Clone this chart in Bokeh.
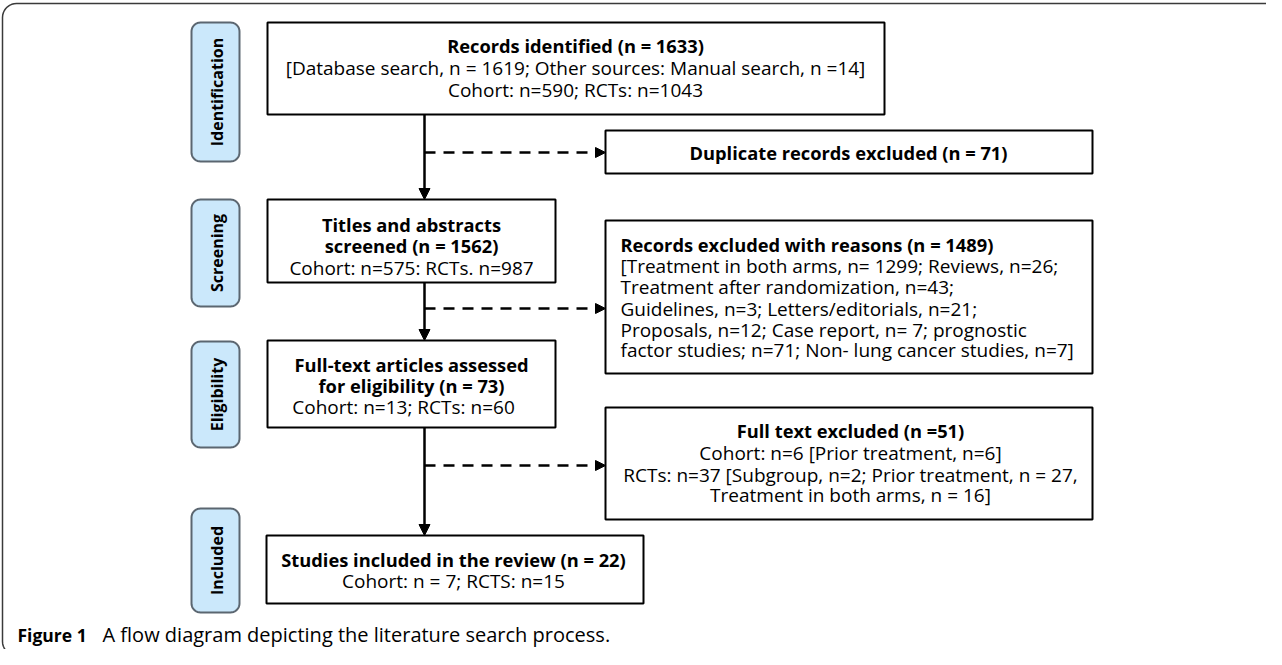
import numpy as np
from bokeh.plotting import figure
from bokeh.models import Range1d, Arrow, NormalHead
from bokeh.embed import file_html
from bokeh.resources import INLINE
from bokeh.core.properties import value

# ---------------- data ----------------
stages = ["Identification", "Screening", "Eligibility", "Included"]

ident_title = "Records identified (n = 1633)"
ident_lines = ["[Database search, n = 1619; Other sources: Manual search, n =14]",
               "Cohort: n=590; RCTs: n=1043"]
dup_title = "Duplicate records excluded (n = 71)"
screen_title = ["Titles and abstracts", "screened (n = 1562)"]
screen_lines = ["Cohort: n=575: RCTs. n=987"]
reasons_title = "Records excluded with reasons (n = 1489)"
reasons_lines = ["[Treatment in both arms, n= 1299; Reviews, n=26;",
                 "Treatment after randomization,  n=43;",
                 "Guidelines, n=3; Letters/editorials, n=21;",
                 "Proposals, n=12; Case report, n= 7; prognostic",
                 "factor studies; n=71; Non- lung cancer studies, n=7]"]
elig_title = ["Full-text articles assessed", "for eligibility (n = 73)"]
elig_lines = ["Cohort: n=13; RCTs: n=60"]
ft_title = "Full text excluded (n =51)"
ft_lines = ["Cohort: n=6 [Prior treatment, n=6]",
            "RCTs: n=37 [Subgroup, n=2; Prior treatment, n = 27,",
            "Treatment in both arms, n = 16]"]
incl_title = "Studies included in the review (n = 22)"
incl_lines = ["Cohort: n = 7; RCTS: n=15"]
caption_bold = "Figure 1"
caption_rest = "A flow diagram depicting the literature search process."

FONT = "Open Sans"
FS_REG = "19px"
FS_BOLD = "18.3px"

W, H = 1266, 649
p = figure(width=W, height=H, output_backend="svg", toolbar_location=None,
           x_range=Range1d(8, 8 + W), y_range=Range1d(8 + H, 8),
           x_axis_type=None, y_axis_type=None, min_border=0)
p.grid.visible = False
p.outline_line_color = None
p.background_fill_color = "white"
p.border_fill_color = "white"


def rrect(x0, y0, x1, y1, r, n=10):
    xs, ys = [], []
    corners = [(x1 - r, y0 + r, -90, 0), (x1 - r, y1 - r, 0, 90),
               (x0 + r, y1 - r, 90, 180), (x0 + r, y0 + r, 180, 270)]
    for cx, cy, a0, a1 in corners:
        t = np.radians(np.linspace(a0, a1, n))
        xs += list(cx + r * np.cos(t))
        ys += list(cy + r * np.sin(t))
    xs.append(xs[0]); ys.append(ys[0])
    return xs, ys


# outer frame
fx, fy = rrect(10, 11, 1320, 663, 14)
p.line(fx, fy, line_color="#3a3a3a", line_width=1.5)

# stage labels
stage_boxes = [(30, 169), (207, 314), (349, 455), (516, 620)]
for (y0, y1), name in zip(stage_boxes, stages):
    xs, ys = rrect(199, y0, 247, y1, 9)
    p.patch(xs, ys, fill_color="#cbe8fb", line_color="#5b6670", line_width=2)
    p.text(x=[224], y=[(y0 + y1) / 2], text=[name], angle=np.pi / 2,
           text_align="center", text_baseline="middle",
           text_font=value(FONT), text_font_style="bold", text_font_size="16px",
           text_color="black")

# boxes
boxes = {
    "ident": (275, 30, 892, 122),
    "dup": (613, 138, 1100, 181),
    "screen": (275, 207, 563, 290),
    "reasons": (613, 228, 1100, 381),
    "elig": (275, 348, 563, 435),
    "ft": (613, 415, 1100, 527),
    "incl": (274, 543, 651, 611),
}
for k, (x0, y0, x1, y1) in boxes.items():
    p.quad(left=x0, right=x1, top=y0, bottom=y1, fill_color="white",
           line_color="black", line_width=2)

# arrows
AX = 432
solid = [(122, 207), (290, 348), (435, 543)]
for ys_, ye_ in solid:
    p.add_layout(Arrow(end=NormalHead(size=11, fill_color="black", line_color="black"),
                       x_start=AX, y_start=ys_, x_end=AX, y_end=ye_,
                       line_color="black", line_width=2.5))
dashed = [160, 316, 473]
for yy in dashed:
    p.add_layout(Arrow(end=NormalHead(size=10, fill_color="black", line_color="black"),
                       x_start=AX, y_start=yy, x_end=613, y_end=yy,
                       line_color="black", line_width=2.5, line_dash="11 8"))


def txt(x, y, lines, bold=False, align="center", size=None):
    if size is None:
        size = FS_BOLD if bold else FS_REG
    p.text(x=[x] * len(lines), y=y, text=lines, text_align=align,
           text_baseline="middle", text_font=value(FONT),
           text_font_style="bold" if bold else "normal",
           text_font_size=size, text_color="black")


txt(583, [53], [ident_title], bold=True)
txt(583, [75, 97], ident_lines)
txt(856, [160], [dup_title], bold=True)
txt(419, [232, 253], screen_title, bold=True)
txt(419, [275], screen_lines)
txt(628, [252], [reasons_title], bold=True, align="left")
txt(628, [273, 294, 316, 337, 357], reasons_lines, align="left")
txt(419, [372, 393], elig_title, bold=True)
txt(411, [414], elig_lines)
txt(858, [438], [ft_title], bold=True)
txt(858, [460, 482, 502], ft_lines)
txt(461, [567], [incl_title], bold=True)
txt(461, [588], incl_lines)

# caption
txt(25, [642], [caption_bold], bold=True, align="left", size="17.5px")
txt(110, [642], [caption_rest], align="left", size="20px")

open("out.html", "w").write(file_html(p, INLINE))
